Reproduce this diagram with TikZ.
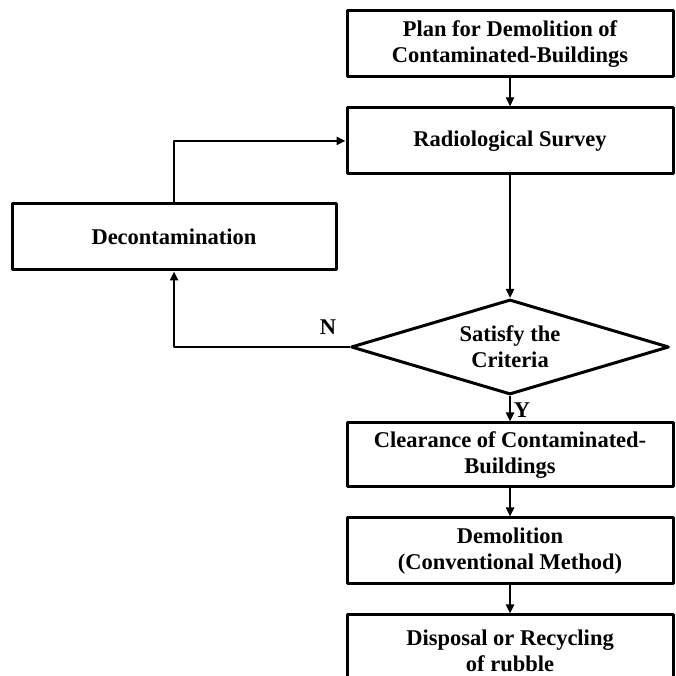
\documentclass[tikz,border=0pt]{standalone}
\usepackage{fontspec}
\setmainfont{Liberation Serif}
\usetikzlibrary{shapes.geometric,arrows.meta}
\begin{document}
\begin{tikzpicture}[x=1pt,y=1pt,>={Triangle[length=9pt,width=8pt]},line join=round,
		font=\bfseries\fontsize{22.5}{26}\selectfont,
		box/.style={draw,line width=3pt,minimum width=326pt,minimum height=66pt,align=center,inner sep=0pt},
		crit/.style={draw,diamond,aspect=3.3,line width=3pt,minimum width=318pt,minimum height=95pt,align=center,inner sep=0pt},
		flow/.style={->,line width=2.4pt}]
	\useasboundingbox (0,0) rectangle (676,676);
	\clip (0,0) rectangle (676,676);
	% main column
	\node[box] (plan) at (510,632) {Plan for Demolition of\\Contaminated-Buildings};
	\node[box] (survey) at (510,535) {Radiological Survey};
	\node[crit] (check) at (510,329) {Satisfy the\\Criteria};
	\node[box,minimum height=64pt] (clear) at (510,221) {Clearance of Contaminated-\\Buildings};
	\node[box] (demol) at (510,125) {Demolition\\(Conventional Method)};
	\node[box,minimum height=72pt] (disp) at (510,25) {Disposal or Recycling\\of rubble};
	% loop back
	\node[box,minimum width=324pt] (decon) at (174,439) {Decontamination};
	\node (nlab) at (328,349) {N};
	\node (ylab) at (522,266) {Y};
	\draw[flow] (plan) -- (survey);
	\draw[flow] (survey) -- (check);
	\draw[flow] (check.south) -- (clear.north);
	\draw[flow] (clear) -- (demol);
	\draw[flow] (demol) -- (disp);
	\draw[flow] (check.west) -| (decon.south);
	\draw[flow] (decon.north) |- (survey.west);
\end{tikzpicture}
\end{document}
